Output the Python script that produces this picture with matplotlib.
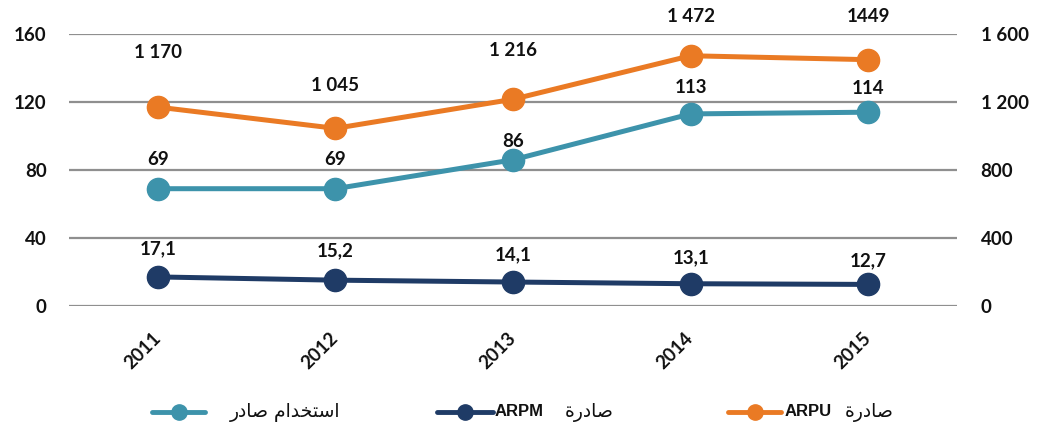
import matplotlib.pyplot as plt
from matplotlib.lines import Line2D
from matplotlib.ticker import FuncFormatter

years = ['2011', '2012', '2013', '2014', '2015']
usage = [69, 69, 86, 113, 114]              # left axis
arpm = [17.1, 15.2, 14.1, 13.1, 12.7]       # left axis
arpu = [1170, 1045, 1216, 1472, 1449]       # right axis
arpu_labels = ['1 170', '1 045', '1 216', '1 472', '1449']
left_ticks = [0, 40, 80, 120, 160]
right_ticks = [0, 400, 800, 1200, 1600]

# arabic legend words, already shaped (presentation forms) and in visual order
w_usage = '\uFEE1\uFE8D\uFEAA\uFEA8\uFE98\uFEB3\uFE8D'   # استخدام
w_out = '\uFEAD\uFEA9\uFE8E\uFEBB'                       # صادر
w_out_f = '\uFE93\uFEAD\uFEA9\uFE8E\uFEBB'               # صادرة

teal = '#3d93ab'
navy = '#1f3b66'
orange = '#ea7a24'
grid_c = '#8f8f8f'
num_font = 'Lato'

# label offsets above points (points)
off_usage = [21, 21, 13, 19, 17]
off_arpm = [20, 21, 20, 19, 17]
off_arpu = [39, 31, 35, 28, 31]

W, H = 1038, 434
fig = plt.figure(figsize=(W / 100, H / 100), dpi=100)
ax = fig.add_axes([69 / W, 128 / H, 888 / W, 272 / H])
ax2 = ax.twinx()

x = list(range(len(years)))
style = dict(lw=3.6, marker='o', ms=16, solid_capstyle='round')
ax.plot(x, usage, color=teal, zorder=3, **style)
ax.plot(x, arpm, color=navy, zorder=3, **style)
ax2.plot(x, arpu, color=orange, zorder=3, **style)

ax.set_xlim(-0.5, 4.5)
ax.set_ylim(0, 160)
ax2.set_ylim(0, 1600)
ax.set_yticks(left_ticks)
ax2.set_yticks(right_ticks)
ax2.yaxis.set_major_formatter(FuncFormatter(lambda v, p: f'{int(v):,}'.replace(',', ' ')))

ax.yaxis.grid(True, color=grid_c, lw=1.6)
ax.set_axisbelow(True)
for a in (ax, ax2):
    for s in a.spines.values():
        s.set_visible(False)
    a.tick_params(length=0, labelsize=13.5, labelcolor='#111111')
    for lab in a.get_yticklabels():
        lab.set_fontweight('bold')
        lab.set_fontfamily(num_font)
ax.tick_params(axis='y', pad=16)
ax2.tick_params(axis='y', pad=17)

ax.set_xticks(x)
ax.set_xticklabels(years, rotation=45, ha='right', va='center', rotation_mode='anchor',
                   fontweight='bold', fontfamily=num_font, fontsize=13.5)
ax.tick_params(axis='x', pad=21)

lab_kw = dict(textcoords='offset points', ha='center', va='center',
              fontsize=13.5, fontweight='bold', fontfamily=num_font, color='#111111')
for i, v in enumerate(usage):
    ax.annotate(str(v), (i, v), xytext=(0, off_usage[i]), **lab_kw)
for i, v in enumerate(arpm):
    ax.annotate(f'{v:.1f}'.replace('.', ','), (i, v), xytext=(0, off_arpm[i]), **lab_kw)
for i, v in enumerate(arpu):
    ax2.annotate(arpu_labels[i], (i, v), xytext=(0, off_arpu[i]), **lab_kw)


# legend drawn by hand at the bottom
def handle(x0, x1, color):
    y = 1 - 412 / H
    fig.add_artist(Line2D([x0 / W, (x0 + x1) / 2 / W, x1 / W], [y, y, y],
                          transform=fig.transFigure, color=color, lw=3.5,
                          marker='o', ms=11, markevery=[1], solid_capstyle='round'))


def text(x0, s, **kw):
    fig.text(x0 / W, 1 - 412 / H, s, ha='left', va='center', color='#111111', **kw)


handle(152, 205, teal)
text(230, w_out + ' ' + w_usage, fontsize=13.5, fontfamily='DejaVu Sans')
handle(437, 493, navy)
text(495, 'ARPM', fontsize=12, fontweight='bold', fontfamily='Liberation Sans')
text(565, w_out_f, fontsize=13.5, fontfamily='DejaVu Sans')
handle(728, 781, orange)
text(785, 'ARPU', fontsize=12, fontweight='bold', fontfamily='Liberation Sans')
text(845, w_out_f, fontsize=13.5, fontfamily='DejaVu Sans')

fig.savefig('out.png', dpi=100)
